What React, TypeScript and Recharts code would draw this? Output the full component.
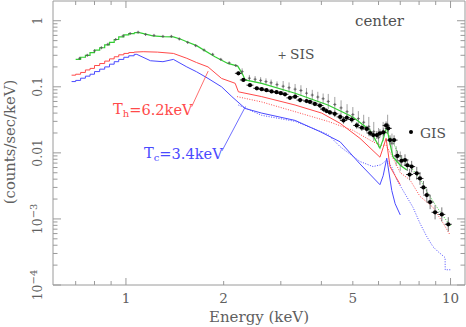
import React from 'react';
import { ComposedChart, Line, Scatter, XAxis, YAxis, ErrorBar, ReferenceLine, ReferenceArea, Customized } from 'recharts';

// ---------- axes ----------
const X_DOMAIN: [number, number] = [0.596, 11.08];
const Y_DOMAIN: [number, number] = [1e-4, 1.99];
const X_TICKS = [0.7, 0.8, 0.9, 1, 2, 3, 4, 5, 6, 7, 8, 9, 10];
const X_MAJOR = [1, 10];
const X_LABELS: Record<string, string> = { '1': '1', '2': '2', '5': '5', '10': '10' };
const Y_TICKS = [
  0.0001, 0.0002, 0.0003, 0.0004, 0.0005, 0.0006, 0.0007, 0.0008, 0.0009,
  0.001, 0.002, 0.003, 0.004, 0.005, 0.006, 0.007, 0.008, 0.009,
  0.01, 0.02, 0.03, 0.04, 0.05, 0.06, 0.07, 0.08, 0.09,
  0.1, 0.2, 0.3, 0.4, 0.5, 0.6, 0.7, 0.8, 0.9,
  1,
];
const Y_MAJOR = [0.0001, 0.001, 0.01, 0.1, 1];
const Y_LABELS: Record<string, [string, string]> = {
  '1': ['1', ''],
  '0.1': ['0.1', ''],
  '0.01': ['0.01', ''],
  '0.001': ['10', '\u22123'],
  '0.0001': ['10', '\u22124'],
};

// ---------- SIS data (crosses) ----------
const sisE = [0.72, 0.76, 0.80, 0.84, 0.88, 0.93, 0.98, 1.03, 1.09, 1.15, 1.22, 1.30, 1.38, 1.46, 1.55, 1.64, 1.74, 1.85, 1.96, 2.08, 2.18,
  2.28, 2.40, 2.50, 2.60, 2.70, 2.80, 2.92, 3.05, 3.18, 3.32, 3.46, 3.60, 3.75, 3.90, 4.05, 4.20, 4.40, 4.60, 4.80, 5.00, 5.20, 5.40,
  5.60, 5.80, 6.00, 6.20, 6.40, 6.60, 6.80, 7.00];
const sisV = [0.27, 0.30, 0.35, 0.39, 0.44, 0.52, 0.59, 0.64, 0.67, 0.62, 0.60, 0.58, 0.58, 0.53, 0.47, 0.42, 0.36, 0.31, 0.26, 0.23, 0.21,
  0.17, 0.135, 0.13, 0.125, 0.12, 0.115, 0.108, 0.102, 0.097, 0.092, 0.088, 0.080, 0.075, 0.070, 0.066, 0.060, 0.054, 0.048, 0.042, 0.038, 0.033, 0.029,
  0.025, 0.021, 0.017, 0.021, 0.027, 0.014, 0.009, 0.0075];
const sisErr = [1.03, 1.03, 1.03, 1.03, 1.03, 1.03, 1.03, 1.03, 1.03, 1.03, 1.03, 1.03, 1.03, 1.03, 1.03, 1.03, 1.03, 1.03, 1.03, 1.03, 1.03,
  1.12, 1.12, 1.12, 1.12, 1.12, 1.12, 1.12, 1.2, 1.2, 1.2, 1.2, 1.2, 1.2, 1.2, 1.2, 1.3, 1.3, 1.3, 1.3, 1.3, 1.3, 1.3,
  1.4, 1.4, 1.4, 1.4, 1.4, 1.4, 1.4, 1.4];

// ---------- GIS data (dots) ----------
const gisE = [2.22, 2.30, 2.41, 2.53, 2.62, 2.71, 2.81, 2.91, 3.00, 3.09, 3.20, 3.32, 3.44, 3.60, 3.69, 3.82, 3.96, 4.06, 4.15, 4.25,
  4.40, 4.57, 4.68, 4.79, 4.96, 5.14, 5.33, 5.52, 5.65, 5.78, 5.93, 6.06, 6.21, 6.33, 6.43, 6.51, 6.70, 6.86, 7.07, 7.24,
  7.36, 7.48, 7.59, 7.87, 8.05, 8.25, 8.45, 8.65, 8.96, 9.40, 9.84];
const gisV = [0.16, 0.127, 0.106, 0.095, 0.092, 0.089, 0.085, 0.083, 0.080, 0.077, 0.068, 0.071, 0.063, 0.061, 0.059, 0.055, 0.052, 0.046, 0.043, 0.041,
  0.039, 0.035, 0.031, 0.034, 0.032, 0.026, 0.024, 0.023, 0.020, 0.0186, 0.0186, 0.0198, 0.0205, 0.026, 0.0235, 0.0156, 0.0156, 0.009, 0.0076, 0.0078,
  0.0065, 0.0047, 0.0062, 0.0049, 0.0041, 0.0030, 0.0023, 0.0018, 0.00126, 0.00117, 0.00083];
const gisErr = [1.06, 1.06, 1.06, 1.06, 1.06, 1.06, 1.06, 1.06, 1.06, 1.06, 1.08, 1.08, 1.08, 1.08, 1.08, 1.08, 1.08, 1.08, 1.08, 1.08,
  1.12, 1.12, 1.12, 1.12, 1.12, 1.12, 1.12, 1.12, 1.12, 1.12, 1.15, 1.15, 1.15, 1.15, 1.15, 1.18, 1.18, 1.2, 1.22, 1.22,
  1.22, 1.22, 1.22, 1.25, 1.25, 1.25, 1.25, 1.28, 1.28, 1.28, 1.28];

// ---------- SIS total model (green) ----------
const totLowE = [0.70, 0.725, 0.75, 0.775, 0.80, 0.83, 0.86, 0.89, 0.92, 0.95, 0.985, 1.02, 1.06];
const totLowV = [0.26, 0.28, 0.30, 0.33, 0.36, 0.39, 0.43, 0.47, 0.52, 0.57, 0.61, 0.64, 0.66];
const totE = [1.06, 1.10, 1.21, 1.30, 1.40, 1.47, 1.54, 1.65, 1.88, 2.06, 2.21, 2.28, 2.33, 2.62, 3.32, 4.19, 5.0, 5.65, 6.06, 6.20, 6.36, 6.50, 6.65, 7.0, 7.33];
const totV = [0.66, 0.66, 0.59, 0.575, 0.57, 0.53, 0.48, 0.42, 0.285, 0.226, 0.206, 0.16, 0.127, 0.113, 0.080, 0.053, 0.035, 0.022, 0.0118, 0.016, 0.025, 0.014, 0.0087, 0.0065, 0.0055];
// GIS total model (green dotted)
const gTotE = [6.0, 6.3, 6.6, 6.9, 7.2, 7.6, 8.0, 8.5, 9.0, 9.5, 10.0];
const gTotV = [0.018, 0.021, 0.016, 0.0095, 0.0075, 0.0058, 0.0042, 0.0025, 0.0016, 0.0011, 0.00078];

// ---------- hot component Th (red) ----------
const hotLowE = [0.68, 0.70, 0.725, 0.75, 0.775, 0.80, 0.83, 0.86, 0.89, 0.92, 0.95, 0.985, 1.02, 1.06];
const hotLowV = [0.15, 0.155, 0.165, 0.18, 0.19, 0.21, 0.225, 0.245, 0.265, 0.285, 0.305, 0.32, 0.33, 0.335];
const hotE = [1.06, 1.13, 1.25, 1.40, 1.54, 1.65, 1.79, 1.97, 2.17, 2.22, 2.62, 3.32, 4.01, 4.57, 5.26, 6.06, 6.20, 6.33, 6.51, 6.75, 7.0];
const hotV = [0.335, 0.34, 0.335, 0.32, 0.27, 0.233, 0.20, 0.134, 0.113, 0.084, 0.071, 0.053, 0.040, 0.028, 0.0166, 0.0086, 0.012, 0.0166, 0.0062, 0.0045, 0.0033];
const hotGisE = [2.20, 2.62, 3.32, 4.19, 5.0, 5.77, 6.10, 6.33, 6.60, 7.0, 7.5, 8.05, 8.83, 9.48, 9.97];
const hotGisV = [0.071, 0.059, 0.042, 0.030, 0.022, 0.0147, 0.013, 0.0131, 0.009, 0.005, 0.0039, 0.0022, 0.0015, 0.00087, 0.00057];

// ---------- cool component Tc (blue) ----------
const coolLowE = [0.68, 0.70, 0.725, 0.75, 0.775, 0.80, 0.83, 0.86, 0.89, 0.92, 0.95, 0.985, 1.02, 1.06];
const coolLowV = [0.12, 0.125, 0.135, 0.145, 0.155, 0.17, 0.185, 0.20, 0.22, 0.24, 0.26, 0.28, 0.295, 0.31];
const coolE = [1.06, 1.08, 1.19, 1.30, 1.40, 1.54, 1.65, 1.79, 1.97, 2.12, 2.33, 2.62, 3.32, 3.96, 4.57, 5.26, 6.06, 6.20, 6.36, 6.59, 6.75, 7.0];
const coolV = [0.31, 0.31, 0.248, 0.24, 0.26, 0.20, 0.169, 0.134, 0.10, 0.071, 0.047, 0.040, 0.031, 0.021, 0.0147, 0.0068, 0.0033, 0.0045, 0.0083, 0.0027, 0.0017, 0.00115];
const coolGisE = [2.22, 2.62, 3.32, 4.19, 4.57, 5.26, 5.77, 6.10, 6.36, 6.60, 6.83, 7.66, 8.05, 8.45, 8.83, 9.15, 9.62, 9.63, 10.05];
const coolGisV = [0.053, 0.037, 0.030, 0.019, 0.0124, 0.0074, 0.0062, 0.0066, 0.0078, 0.006, 0.0039, 0.0015, 0.00086, 0.00054, 0.00038, 0.00032, 0.00026, 0.00017, 0.00017];

// label leader lines (data coordinates)
const hotLeader = [{ x: 1.594, y: 0.05 }, { x: 1.792, y: 0.173 }];
const coolLeader = [{ x: 1.976, y: 0.0107 }, { x: 2.335, y: 0.0503 }];

// ---------- style ----------
const FONT = "'DejaVu Serif', 'Liberation Serif', serif";
const AXIS = '#9a9a9a';
const TEXT = '#606060';
const GREEN = '#33cc33';
const RED = '#ff4a4a';
const BLUE = '#4a4aff';
const PLOT_TOP = 1;
const PLOT_BOTTOM = 285;
const PLOT_LEFT = 53;
const PLOT_RIGHT = 465;

const pts = (e: number[], v: number[]) => e.map((x, i) => ({ x, y: v[i] }));
const withErr = (e: number[], v: number[], f: number[], xf: number) =>
  e.map((x, i) => ({
    x,
    y: v[i],
    ey: [v[i] - v[i] / f[i], v[i] * (f[i] - 1)],
    ex: [x - x / xf, x * (xf - 1)],
  }));

const sisData = withErr(sisE, sisV, sisErr, 1.015);
const gisData = withErr(gisE, gisV, gisErr, 1.025);

const XTick = (p: any) => {
  const { x, payload } = p;
  const v = payload.value;
  const len = X_MAJOR.includes(v) ? 7 : 4;
  const label = X_LABELS[String(v)];
  return (
    <g>
      <line x1={x} x2={x} y1={PLOT_BOTTOM} y2={PLOT_BOTTOM - len} stroke={AXIS} />
      <line x1={x} x2={x} y1={PLOT_TOP} y2={PLOT_TOP + len} stroke={AXIS} />
      {label ? (
        <text x={x} y={PLOT_BOTTOM + 18} textAnchor="middle" style={{ fontFamily: FONT }} fontSize={13.5} fill={TEXT}>
          {label}
        </text>
      ) : null}
    </g>
  );
};

const YTick = (p: any) => {
  const { y, payload } = p;
  const v = payload.value;
  const len = Y_MAJOR.includes(v) ? 8 : 4.5;
  const label = Y_LABELS[String(v)];
  const tx = 42;
  return (
    <g>
      <line x1={PLOT_LEFT} x2={PLOT_LEFT + len} y1={y} y2={y} stroke={AXIS} />
      <line x1={PLOT_RIGHT} x2={PLOT_RIGHT - len} y1={y} y2={y} stroke={AXIS} />
      {label ? (
        <text x={tx} y={y} transform={`rotate(-90 ${tx} ${y})`} textAnchor="middle" style={{ fontFamily: FONT }} fontSize={12.5} fill={TEXT}>
          {label[0]}
          {label[1] ? (
            <tspan dy={-5} fontSize={10}>
              {label[1]}
            </tspan>
          ) : null}
        </text>
      ) : null}
    </g>
  );
};

const Cross = (p: any) => {
  const { cx, cy } = p;
  return (
    <g>
      <line x1={cx - 1.5} x2={cx + 1.5} y1={cy} y2={cy} stroke="#555" strokeWidth={0.8} />
      <line x1={cx} x2={cx} y1={cy - 1.5} y2={cy + 1.5} stroke="#555" strokeWidth={0.8} />
    </g>
  );
};

const Dot = (p: any) => <circle cx={p.cx} cy={p.cy} r={2.1} fill="#000" />;

const Annotations = () => (
  <g style={{ fontFamily: FONT }}>
    <text x={259} y={322} textAnchor="middle" fontSize={15} fill={TEXT}>Energy (keV)</text>
    <text x={15} y={142} transform="rotate(-90 15 142)" textAnchor="middle" fontSize={14.8} fill={TEXT}>(counts/sec/keV)</text>
    <text x={355} y={26} fontSize={15} fill="#505050">center</text>
    <text x={282} y={59} textAnchor="middle" fontSize={11} fill="#555">+</text>
    <text x={290} y={59} fontSize={13.8} fill="#505050">SIS</text>
    <circle cx={411} cy={132} r={2} fill="#000" />
    <text x={420} y={138} fontSize={13.8} fill="#505050">GIS</text>
    <text x={113} y={114} fontSize={14.6} fill={RED}>
      T<tspan dy={3} fontSize={10}>h</tspan>
      <tspan dy={-2}>=6.2keV</tspan>
    </text>
    <text x={144} y={158} fontSize={14.6} fill={BLUE}>
      T<tspan dy={3} fontSize={10}>c</tspan>
      <tspan dy={-2}>=3.4keV</tspan>
    </text>
  </g>
);

export default function App() {
  return (
    <div style={{ position: 'absolute', left: 0, top: 0, background: '#fff' }}>
      <ComposedChart width={466} height={327} margin={{ top: 1, right: 1, bottom: 0, left: 0 }}>
        <XAxis
          dataKey="x"
          type="number"
          scale="log"
          domain={X_DOMAIN}
          allowDataOverflow
          ticks={X_TICKS}
          interval={0}
          tick={(p: any) => <XTick {...p} />}
          tickLine={false}
          tickSize={0}
          tickMargin={0}
          axisLine={false}
          height={42}
        />
        <YAxis
          dataKey="y"
          type="number"
          scale="log"
          domain={Y_DOMAIN}
          allowDataOverflow
          ticks={Y_TICKS}
          interval={0}
          tick={(p: any) => <YTick {...p} />}
          tickLine={false}
          tickSize={0}
          tickMargin={0}
          axisLine={false}
          width={53}
        />
        <ReferenceArea x1={X_DOMAIN[0]} x2={X_DOMAIN[1]} y1={Y_DOMAIN[0]} y2={Y_DOMAIN[1]} fill="none" stroke={AXIS} strokeWidth={1} ifOverflow="visible" />

        <Scatter data={sisData} shape={Cross} isAnimationActive={false}>
          <ErrorBar dataKey="ey" direction="y" width={0} stroke="#8a8a8a" strokeWidth={0.8} />
        </Scatter>

        <Line data={pts(hotGisE, hotGisV)} dataKey="y" type="linear" stroke={RED} strokeWidth={1} strokeDasharray="1 1.5" dot={false} isAnimationActive={false} />
        <Line data={pts(coolGisE, coolGisV)} dataKey="y" type="linear" stroke={BLUE} strokeWidth={1} strokeDasharray="1 1.5" dot={false} isAnimationActive={false} />
        <Line data={pts(gTotE, gTotV)} dataKey="y" type="linear" stroke={GREEN} strokeWidth={1} strokeDasharray="1 1.5" dot={false} isAnimationActive={false} />

        <Line data={pts(hotLowE, hotLowV)} dataKey="y" type="stepAfter" stroke={RED} strokeWidth={1} dot={false} isAnimationActive={false} />
        <Line data={pts(hotE, hotV)} dataKey="y" type="linear" stroke={RED} strokeWidth={1} dot={false} isAnimationActive={false} />
        <Line data={pts(coolLowE, coolLowV)} dataKey="y" type="stepAfter" stroke={BLUE} strokeWidth={1} dot={false} isAnimationActive={false} />
        <Line data={pts(coolE, coolV)} dataKey="y" type="linear" stroke={BLUE} strokeWidth={1} dot={false} isAnimationActive={false} />
        <Line data={pts(totLowE, totLowV)} dataKey="y" type="stepAfter" stroke={GREEN} strokeWidth={1.2} dot={false} isAnimationActive={false} />
        <Line data={pts(totE, totV)} dataKey="y" type="linear" stroke={GREEN} strokeWidth={1.2} dot={false} isAnimationActive={false} />

        <Scatter data={gisData} shape={Dot} isAnimationActive={false}>
          <ErrorBar dataKey="ey" direction="y" width={0} stroke="#777" strokeWidth={1} />
          <ErrorBar dataKey="ex" direction="x" width={0} stroke="#333" strokeWidth={1} />
        </Scatter>

        <ReferenceLine segment={hotLeader} stroke={RED} strokeWidth={0.8} />
        <ReferenceLine segment={coolLeader} stroke={BLUE} strokeWidth={0.8} />

        <Customized component={Annotations} />
      </ComposedChart>
    </div>
  );
}
